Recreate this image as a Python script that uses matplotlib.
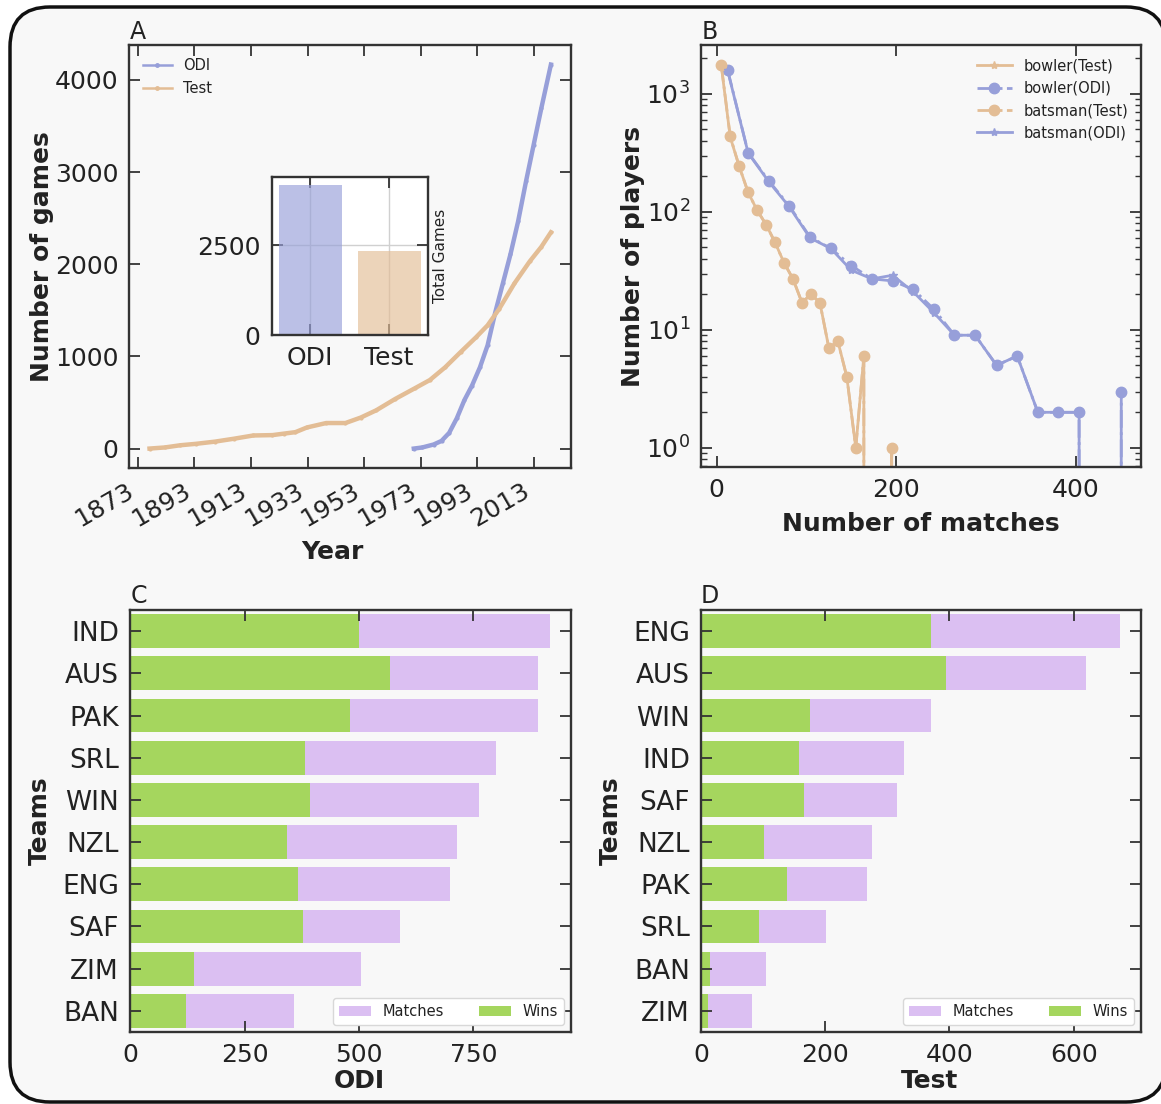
import numpy as np
import matplotlib
matplotlib.use('Agg')
import matplotlib.pyplot as plt
from matplotlib.patches import FancyBboxPatch

plt.rcParams['font.family'] = ['DejaVu Sans']
plt.rcParams['text.color'] = '#222222'
plt.rcParams['axes.labelcolor'] = '#222222'
plt.rcParams['xtick.color'] = '#333333'
plt.rcParams['ytick.color'] = '#333333'
plt.rcParams['xtick.labelcolor'] = '#222222'
plt.rcParams['ytick.labelcolor'] = '#222222'

# A: cumulative number of games (decimal years)
test_years = [1877.1, 1882.5, 1888.0, 1893.4, 1900.2, 1907.0, 1913.8, 1920.6, 1924.6, 1928.7,
              1932.8, 1939.6, 1946.4, 1951.8, 1957.3, 1964.0, 1970.9, 1976.3, 1981.7, 1987.2,
              1992.6, 1996.7, 2000.8, 2006.2, 2011.6, 2015.7, 2019.1]
test_games = [0, 12, 36, 51, 75, 107, 142, 146, 162, 178,
              229, 277, 277, 336, 415, 538, 653, 744, 882, 1048,
              1207, 1337, 1515, 1792, 2030, 2188, 2346]
odi_years = [1970.6, 1973.6, 1977.6, 1980.4, 1983.1, 1985.8, 1988.5, 1991.2, 1994.0, 1996.7,
             1999.4, 2002.1, 2004.8, 2007.5, 2010.3, 2013.0, 2015.7, 2019.1]
odi_games = [0, 12, 44, 83, 170, 328, 526, 684, 882, 1120,
             1476, 1792, 2109, 2465, 2900, 3296, 3691, 4166]

# B: players vs number of matches
test_bins = [5, 15, 25, 35, 45, 55, 65, 75, 85, 95, 105, 115, 125, 135, 145, 155, 164, 175, 185, 195, 205]
bowler_test = [1740, 430, 243, 146, 103, 78, 55, 37, 27, 17, 20, 17, 7, 8, 4, 1, 6, 0, 0, 1, 0]
batsman_test = [1770, 436, 243, 146, 103, 78, 55, 37, 27, 17, 20, 17, 7, 8, 4, 1, 6, 0, 0, 1, 0]
odi_bins = [12, 35, 58, 81, 104, 127, 150, 173, 196, 219, 242, 265, 288, 312, 335, 358, 381, 404, 428, 451]
bowler_odi = [1606, 317, 183, 112, 61, 49, 35, 27, 26, 22, 15, 9, 9, 5, 6, 2, 2, 2, 0, 3]
batsman_odi = [1590, 315, 180, 110, 60, 49, 32, 27, 29, 21, 14, 9, 9, 5, 6, 2, 2, 2, 0, 3]

# C, D: matches and wins per team
odi_teams = ['IND', 'AUS', 'PAK', 'SRL', 'WIN', 'NZL', 'ENG', 'SAF', 'ZIM', 'BAN']
odi_matches = [918, 892, 892, 800, 763, 715, 700, 590, 505, 357]
odi_wins = [500, 568, 481, 382, 393, 343, 367, 378, 140, 122]
test_teams = ['ENG', 'AUS', 'WIN', 'IND', 'SAF', 'NZL', 'PAK', 'SRL', 'BAN', 'ZIM']
test_matches = [675, 619, 371, 326, 315, 276, 268, 201, 104, 82]
test_wins = [371, 394, 175, 157, 166, 101, 138, 93, 14, 12]

c_odi = '#979fd9'
c_test = '#e3bd95'
c_match = '#dbbff2'
c_win = '#a5d65e'


def style(ax, size=18):
    ax.tick_params(which='both', direction='in', top=True, right=True)
    ax.tick_params(which='major', length=8, width=1.3, pad=8, labelsize=size)
    ax.tick_params(which='minor', length=4, width=1)
    for s in ax.spines.values():
        s.set_linewidth(1.7)
        s.set_color('#333333')


def letter(ax, t):
    ax.text(0, 1.004, t, transform=ax.transAxes, ha='left', va='bottom', fontsize=17)


fig = plt.figure(figsize=(11.61, 11.04), dpi=100, facecolor='white')
frame = FancyBboxPatch((10, 2), 1156, 1095, boxstyle='round,pad=0,rounding_size=40',
                       transform=None, facecolor='#f8f8f8', edgecolor='#111111', lw=2.5, zorder=-10)
fig.add_artist(frame)

# ---- A
axA = fig.add_axes([0.1115, 0.5763, 0.3803, 0.3826])
axA.set_facecolor('none')
axA.plot(odi_years, odi_games, '.-', color=c_odi, lw=3.2, ms=4, label='ODI')
axA.plot(test_years, test_games, '.-', color=c_test, lw=3.2, ms=4, label='Test')
axA.set_xticks(range(1873, 2014, 20))
axA.set_xticklabels([str(y) for y in range(1873, 2014, 20)], rotation=30, ha='right')
axA.set_yticks([0, 1000, 2000, 3000, 4000])
style(axA)
axA.set_xlabel('Year', fontsize=18, fontweight='bold')
axA.set_ylabel('Number of games', fontsize=18, fontweight='bold')
axA.xaxis.set_label_coords(0.46, -0.17)
axA.yaxis.set_label_coords(-0.17, 0.5)
legA = axA.legend(loc='upper left', frameon=False, fontsize=10.5)
for h in legA.get_lines():
    h.set_linewidth(1.8)
    h.set_markersize(5)
letter(axA, 'A')

ins = fig.add_axes([0.234, 0.6964, 0.1345, 0.1429])
ins.set_facecolor('white')
ins.set_axisbelow(True)
ins.grid(True, color='#d0d0d0', lw=1)
ins.bar(['ODI', 'Test'], [odi_games[-1], test_games[-1]], width=0.8,
        color=[c_odi, c_test], alpha=0.65)
ins.set_yticks([0, 2500])
style(ins)
ins.yaxis.set_label_position('right')
ins.set_ylabel('Total Games', fontsize=11)

# ---- B
axB = fig.add_axes([0.604, 0.577, 0.379, 0.3819])
axB.set_facecolor('none')
axB.plot(test_bins, bowler_test, '-*', color=c_test, lw=2, ms=6, label='bowler(Test)')
axB.plot(odi_bins, bowler_odi, '-.o', color=c_odi, lw=2, ms=7.5, label='bowler(ODI)')
axB.plot(test_bins, batsman_test, '-.o', color=c_test, lw=2, ms=7.5, label='batsman(Test)')
axB.plot(odi_bins, batsman_odi, '-*', color=c_odi, lw=2, ms=6, label='batsman(ODI)')
axB.set_yscale('log')
axB.set_xticks([0, 200, 400])
style(axB)
axB.set_xlabel('Number of matches', fontsize=18, fontweight='bold')
axB.set_ylabel('Number of players', fontsize=18, fontweight='bold')
axB.xaxis.set_label_coords(0.5, -0.107)
axB.yaxis.set_label_coords(-0.128, 0.5)
axB.legend(loc='upper right', frameon=False, fontsize=10.5, handlelength=2.4)
letter(axB, 'B')


# ---- C, D
def team_panel(rect, teams, matches, wins, xlab, ticks, t):
    ax = fig.add_axes(rect)
    ax.set_facecolor('none')
    y = np.arange(len(teams))
    ax.barh(y, matches, height=0.8, color=c_match, label='Matches')
    ax.barh(y, wins, height=0.8, color=c_win, label='Wins')
    ax.set_yticks(y)
    ax.set_yticklabels(teams)
    ax.set_ylim(len(teams) - 0.5, -0.5)
    ax.set_xticks(ticks)
    style(ax)
    ax.tick_params(axis='y', labelsize=19)
    ax.set_xlabel(xlab, fontsize=18, fontweight='bold')
    ax.set_ylabel('Teams', fontsize=18, fontweight='bold')
    ax.xaxis.set_label_coords(0.52, -0.088)
    ax.yaxis.set_label_coords(-0.178, 0.5)
    ax.legend(loc='lower right', ncol=2, fontsize=10.5, frameon=True, edgecolor='#d8d8d8',
              framealpha=1, handlelength=2.2, columnspacing=2.4)
    letter(ax, t)
    return ax


team_panel([0.1121, 0.0653, 0.3799, 0.3821], odi_teams, odi_matches, odi_wins, 'ODI',
           [0, 250, 500, 750], 'C')
team_panel([0.6038, 0.0653, 0.3792, 0.3821], test_teams, test_matches, test_wins, 'Test',
           [0, 200, 400, 600], 'D')

fig.savefig('out.png', dpi=100, facecolor='white')
